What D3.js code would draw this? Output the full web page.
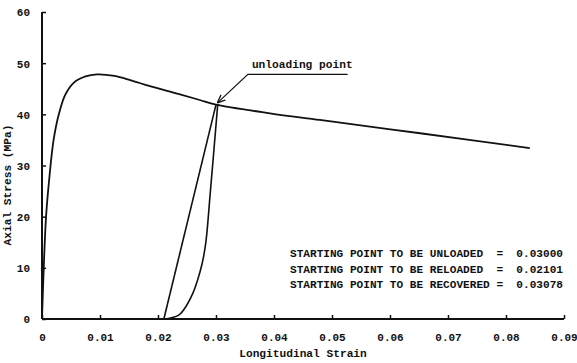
<!DOCTYPE html>
<html>
<head>
<meta charset="utf-8">
<script src="https://cdn.jsdelivr.net/npm/d3@7"></script>
<style>
  body { margin: 0; background: #fff; }
  text { font-family: "Liberation Mono", "DejaVu Sans Mono", monospace; font-weight: bold; fill: #111; }
</style>
</head>
<body>
<svg width="577" height="363"></svg>
<script>
// envelope (monotonic loading) curve
var envStrain = [0, 0.0003, 0.0007, 0.0013, 0.002, 0.0029, 0.004, 0.0055, 0.0075, 0.0095, 0.0125, 0.0152, 0.0186, 0.0235, 0.0272, 0.030, 0.0393, 0.0479, 0.0652, 0.0841];
var envStress = [0, 10, 20, 28, 35, 40, 43.8, 46.2, 47.4, 47.8, 47.5, 46.7, 45.5, 44.0, 42.8, 41.9, 40.2, 38.9, 36.3, 33.4];

// unloading branch (straight)
var unloadStrain = [0.030, 0.02101];
var unloadStress = [41.9, 0];

// reloading branch
var reloadStrain = [0.0212, 0.0235, 0.0245, 0.026, 0.0268, 0.0276, 0.0281, 0.0284, 0.029, 0.0296, 0.0303];
var reloadStress = [0, 0.7, 1.9, 5, 7.5, 10.8, 13.8, 16.5, 24.5, 32.5, 42];

var xTicks = [0, 0.01, 0.02, 0.03, 0.04, 0.05, 0.06, 0.07, 0.08, 0.09];
var yTicks = [0, 10, 20, 30, 40, 50, 60];

var notes = [
  "STARTING POINT TO BE UNLOADED  =  0.03000",
  "STARTING POINT TO BE RELOADED  =  0.02101",
  "STARTING POINT TO BE RECOVERED =  0.03078"
];

var svg = d3.select("svg");

var x = d3.scaleLinear().domain([0, 0.09]).range([42, 564]),
    y = d3.scaleLinear().domain([0, 60]).range([319, 12]);

var xAxis = d3.axisBottom(x).tickValues(xTicks)
    .tickSizeInner(-4).tickSizeOuter(0).tickPadding(14)
    .tickFormat(function (d) { return d === 0 ? "0" : d3.format(".2f")(d); });
var yAxis = d3.axisLeft(y).tickValues(yTicks)
    .tickSizeInner(-4).tickSizeOuter(0).tickPadding(12);

var gx = svg.append("g")
    .attr("transform", "translate(0," + y(0) + ")")
    .call(xAxis);
var gy = svg.append("g")
    .attr("transform", "translate(" + x(0) + ",0)")
    .call(yAxis);

[gx, gy].forEach(function (g) {
  g.select(".domain").attr("stroke", "#111").attr("stroke-width", 2);
  g.selectAll(".tick line").attr("stroke", "#111").attr("stroke-width", 1.5);
  g.selectAll(".tick text").attr("font-size", "11px")
    .attr("font-family", null).attr("fill", "#111");
});
gx.select(".domain").attr("d", "M" + x(0) + ",0H" + x(0.09));
gy.select(".domain").attr("d", "M0," + y(60) + "V" + y(0));
gy.selectAll(".tick text").attr("dy", "0.35em");

svg.append("text")
  .attr("x", 303).attr("y", 357)
  .attr("text-anchor", "middle")
  .attr("font-size", "11.2px")
  .text("Longitudinal Strain");

svg.append("text")
  .attr("transform", "translate(11,185) rotate(-90)")
  .attr("text-anchor", "middle")
  .attr("font-size", "11.2px")
  .text("Axial Stress (MPa)");

function pts(xs, ys) { return xs.map(function (d, i) { return [d, ys[i]]; }); }

var line = d3.line()
    .x(function (d) { return x(d[0]); })
    .y(function (d) { return y(d[1]); })
    .curve(d3.curveCatmullRom.alpha(0.5));

svg.append("path").datum(pts(envStrain, envStress))
  .attr("d", line).attr("fill", "none").attr("stroke", "#111").attr("stroke-width", 1.8);

svg.append("path").datum(pts(unloadStrain, unloadStress))
  .attr("d", d3.line().x(function (d) { return x(d[0]); }).y(function (d) { return y(d[1]); }))
  .attr("fill", "none").attr("stroke", "#111").attr("stroke-width", 1.6);

svg.append("path").datum(pts(reloadStrain, reloadStress))
  .attr("d", line).attr("fill", "none").attr("stroke", "#111").attr("stroke-width", 1.6);

// "unloading point" label with leader
var tip = [0.0302, 42.2], elbow = [0.0355, 47.8], end = [0.0527, 47.8];
svg.append("defs").append("marker")
  .attr("id", "arr").attr("viewBox", "0 0 10 10")
  .attr("refX", 10).attr("refY", 5)
  .attr("markerWidth", 7).attr("markerHeight", 7)
  .attr("orient", "auto")
  .append("path").attr("d", "M0,1L10,5L0,9").attr("fill", "none").attr("stroke", "#111").attr("stroke-width", 1.5);

svg.append("path")
  .attr("d", "M" + x(end[0]) + "," + y(end[1]) + "H" + x(elbow[0]) + "L" + x(tip[0]) + "," + y(tip[1]))
  .attr("fill", "none").attr("stroke", "#111").attr("stroke-width", 1.2)
  .attr("marker-end", "url(#arr)");

svg.append("text")
  .attr("x", x(elbow[0]) + 4).attr("y", y(elbow[1]) - 6)
  .attr("font-size", "11.2px")
  .text("unloading point");

svg.append("g").selectAll("text").data(notes).join("text")
  .attr("x", 290)
  .attr("y", function (d, i) { return 257 + i * 15.5; })
  .attr("font-size", "11.1px")
  .attr("xml:space", "preserve")
  .style("white-space", "pre")
  .text(function (d) { return d; });
</script>
</body>
</html>
